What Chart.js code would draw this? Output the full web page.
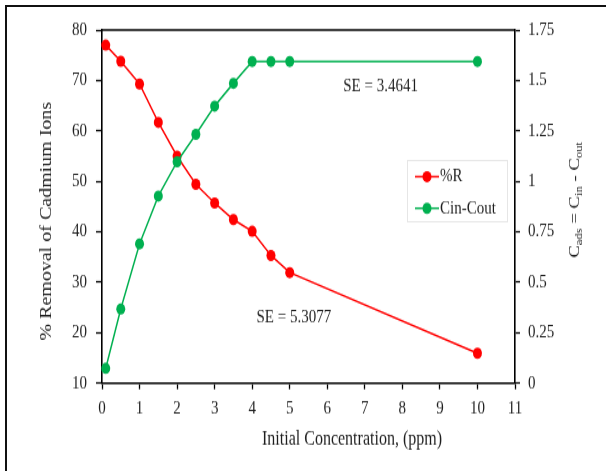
<!DOCTYPE html>
<html>
<head>
<meta charset="utf-8">
<script src="https://cdn.jsdelivr.net/npm/chart.js@4.4.1/dist/chart.umd.min.js"></script>
<style>
  html, body { margin: 0; padding: 0; background: #fff; }
  #wrap { position: relative; width: 606px; height: 471px; overflow: hidden; background: #fff; }
  #c { position: absolute; left: 0; top: 0; }
  #frame { position: absolute; left: 5px; top: 5px; width: 700px; height: 600px;
           border-left: 2px solid #111; border-top: 2px solid #111; pointer-events: none; }
</style>
</head>
<body>
<div id="wrap">
  <canvas id="c" width="606" height="377" style="width:606px;height:471px"></canvas>
  <div id="frame"></div>
</div>
<script>
// Initial concentration of Cd (ppm)
const concentration = [0.1, 0.5, 1, 1.5, 2, 2.5, 3, 3.5, 4, 4.5, 5, 10];
// Percentage removal of cadmium ions (left axis)
const removalPct = [77.0, 73.8, 69.3, 61.7, 55.0, 49.4, 45.7, 42.4, 40.1, 35.3, 31.9, 15.9];
// Adsorbed amount, Cin - Cout (right axis)
const cinMinusCout = [0.073, 0.367, 0.690, 0.927, 1.097, 1.233, 1.373, 1.486, 1.594, 1.594, 1.594, 1.594];

const xTicks = [0, 1, 2, 3, 4, 5, 6, 7, 8, 9, 10, 11];
const leftTicks = [10, 20, 30, 40, 50, 60, 70, 80];
const rightTicks = [0, 0.25, 0.5, 0.75, 1, 1.25, 1.5, 1.75];

const seNotes = [
  { text: 'SE = 3.4641', x: 7.42, y: 68.9 },
  { text: 'SE = 5.3077', x: 5.11, y: 22.9 }
];

const RED = '#ff0000';
const GREEN = '#00b050';
const INK = '#1e1e1e';
const FONT = "'Liberation Serif', 'Times New Roman', serif";

const pairs = (xs, ys) => xs.map((x, i) => ({ x, y: ys[i] }));
const plain = v => String(v);

const overlay = {
  id: 'overlay',
  afterDraw(chart) {
    const { ctx, chartArea: a, scales } = chart;
    ctx.save();

    // top edge of the plot box
    ctx.strokeStyle = '#000';
    ctx.lineWidth = 1.6;
    ctx.beginPath();
    ctx.moveTo(a.left, a.top);
    ctx.lineTo(a.right, a.top);
    ctx.stroke();

    // standard error notes
    ctx.fillStyle = INK;
    ctx.font = `15px ${FONT}`;
    ctx.textAlign = 'center';
    ctx.textBaseline = 'middle';
    seNotes.forEach(n => {
      ctx.fillText(n.text, scales.x.getPixelForValue(n.x), scales.y.getPixelForValue(n.y));
    });

    // legend
    ctx.strokeStyle = '#e6e6e6';
    ctx.lineWidth = 1;
    ctx.strokeRect(407.5, 128.5, 100, 49);
    const items = chart.data.datasets.map((d, i) => ({ label: d.label, color: d.borderColor, y: 141.4 + i * 25.3 }));
    items.forEach(it => {
      ctx.strokeStyle = it.color;
      ctx.lineWidth = 1.5;
      ctx.beginPath();
      ctx.moveTo(415, it.y);
      ctx.lineTo(439, it.y);
      ctx.stroke();
      ctx.fillStyle = it.color;
      ctx.beginPath();
      ctx.arc(427, it.y, 4.5, 0, Math.PI * 2);
      ctx.fill();
      ctx.fillStyle = INK;
      ctx.font = `15px ${FONT}`;
      ctx.textAlign = 'left';
      ctx.textBaseline = 'middle';
      ctx.fillText(it.label, 440, it.y);
    });

    // x axis title
    ctx.fillStyle = INK;
    ctx.font = `16px ${FONT}`;
    ctx.textAlign = 'center';
    ctx.textBaseline = 'middle';
    ctx.fillText('Initial Concentration, (ppm)', 352, 352);

    // left axis title
    ctx.save();
    ctx.translate(47, 177);
    ctx.rotate(-Math.PI / 2);
    ctx.fillText('% Removal of Cadmium Ions', 0, 0);
    ctx.restore();

    // right axis title with subscripts
    const parts = [
      { t: 'C', sub: false }, { t: 'ads', sub: true },
      { t: ' = C', sub: false }, { t: 'in', sub: true },
      { t: ' - C', sub: false }, { t: 'out', sub: true }
    ];
    const mainFont = `15px ${FONT}`;
    const subFont = `10px ${FONT}`;
    let total = 0;
    parts.forEach(p => { ctx.font = p.sub ? subFont : mainFont; p.w = ctx.measureText(p.t).width; total += p.w; });
    ctx.save();
    ctx.translate(574, 160);
    ctx.rotate(-Math.PI / 2);
    ctx.textAlign = 'left';
    ctx.textBaseline = 'alphabetic';
    let cx = -total / 2;
    parts.forEach(p => {
      ctx.font = p.sub ? subFont : mainFont;
      ctx.fillText(p.t, cx, p.sub ? 8 : 5);
      cx += p.w;
    });
    ctx.restore();

    ctx.restore();
  }
};

new Chart(document.getElementById('c'), {
  type: 'line',
  data: {
    datasets: [
      {
        label: '%R',
        data: pairs(concentration, removalPct),
        yAxisID: 'y',
        borderColor: RED,
        backgroundColor: RED,
        borderWidth: 1.5,
        pointRadius: 4.5,
        pointBorderWidth: 0,
        pointBackgroundColor: RED,
        tension: 0,
        order: 1
      },
      {
        label: 'Cin-Cout',
        data: pairs(concentration, cinMinusCout),
        yAxisID: 'y1',
        borderColor: GREEN,
        backgroundColor: GREEN,
        borderWidth: 1.5,
        pointRadius: 4.5,
        pointBorderWidth: 0,
        pointBackgroundColor: GREEN,
        tension: 0,
        order: 0
      }
    ]
  },
  options: {
    responsive: false,
    animation: false,
    devicePixelRatio: 1,
    clip: false,
    layout: { padding: { top: 24, left: 0, right: 0, bottom: 0 } },
    plugins: { legend: { display: false }, tooltip: { enabled: false } },
    scales: {
      x: {
        type: 'linear',
        min: 0, max: 11,
        afterFit: s => { s.height = 70.4; },
        afterBuildTicks: s => { s.ticks = xTicks.map(v => ({ value: v })); },
        grid: { drawOnChartArea: false, color: '#000', tickLength: 5, tickWidth: 1.3 },
        border: { color: '#000', width: 1.6 },
        ticks: { color: INK, font: { family: FONT, size: 15 }, padding: 6, maxRotation: 0, callback: plain }
      },
      y: {
        type: 'linear',
        position: 'left',
        min: 10, max: 80,
        afterFit: s => { s.width = 102; },
        afterBuildTicks: s => { s.ticks = leftTicks.map(v => ({ value: v })); },
        grid: { drawOnChartArea: false, color: '#000', tickLength: 6, tickWidth: 1.3 },
        border: { color: '#000', width: 1.6 },
        ticks: { color: INK, font: { family: FONT, size: 15 }, padding: 9, callback: plain }
      },
      y1: {
        type: 'linear',
        position: 'right',
        min: 0, max: 1.75,
        afterFit: s => { s.width = 91; },
        afterBuildTicks: s => { s.ticks = rightTicks.map(v => ({ value: v })); },
        grid: { drawOnChartArea: false, color: '#000', tickLength: 5, tickWidth: 1.3 },
        border: { color: '#000', width: 1.6 },
        ticks: { color: INK, font: { family: FONT, size: 15 }, padding: 8, callback: plain }
      }
    }
  },
  plugins: [overlay]
});
</script>
</body>
</html>
